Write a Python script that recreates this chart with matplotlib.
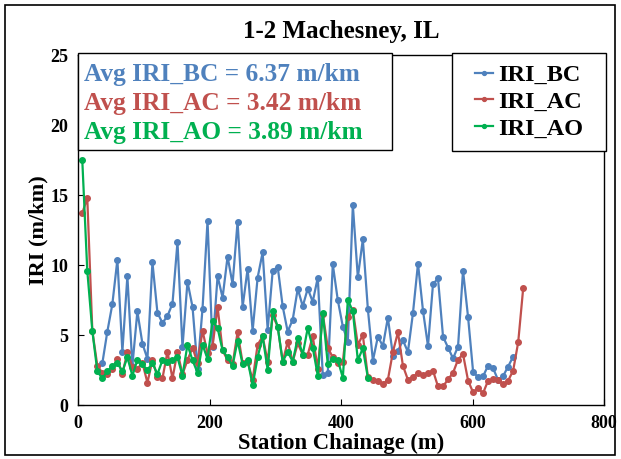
import matplotlib
matplotlib.use("Agg")
import matplotlib.pyplot as plt
from matplotlib.patches import Rectangle

# station chainage (m), one reading every 25 ft
station = [6.5, 14.1, 21.8, 29.4, 37.0, 44.6, 52.2, 59.9, 67.5, 75.1,
           82.7, 90.3, 98.0, 105.6, 113.2, 120.8, 128.4, 136.1, 143.7, 151.3,
           158.9, 166.5, 174.2, 181.8, 189.4, 197.0, 204.6, 212.3, 219.9, 227.5,
           235.1, 242.7, 250.4, 258.0, 265.6, 273.2, 280.8, 288.5, 296.1, 303.7,
           311.3, 318.9, 326.6, 334.2, 341.8, 349.4, 357.0, 364.7, 372.3, 379.9,
           387.5, 395.1, 402.8, 410.4, 418.0, 425.6, 433.2, 440.9, 448.5, 456.1,
           463.7, 471.3, 479.0, 486.6, 494.2, 501.8, 509.4, 517.1, 524.7, 532.3,
           539.9, 547.5, 555.2, 562.8, 570.4, 578.0, 585.6, 593.3, 600.9, 608.5,
           616.1, 623.7, 631.4, 639.0, 646.6, 654.2, 661.8, 669.5, 677.1]

# before construction (stations 5..87)
iri_bc = [2.98, 5.24, 7.19, 10.38, 3.82, 9.19, 2.8, 6.68, 4.38, 3.3,
          10.19, 6.6, 5.86, 6.36, 7.24, 11.64, 4.12, 8.81, 7.0, 2.6,
          6.88, 13.15, 4.17, 9.21, 7.67, 10.6, 8.64, 13.1, 7.02, 9.74,
          5.31, 9.1, 10.9, 5.38, 9.57, 9.88, 7.05, 5.24, 6.1, 8.31,
          7.05, 8.31, 7.38, 9.1, 2.14, 2.26, 10.05, 7.5, 5.6, 4.52,
          14.29, 9.12, 11.83, 6.83, 3.17, 4.88, 4.21, 6.24, 3.52, 3.86,
          4.62, 3.79, 6.55, 10.1, 6.74, 4.21, 8.62, 9.05, 4.88, 4.1,
          3.33, 4.17, 9.6, 6.26, 2.38, 1.97, 2.05, 2.82, 2.62, 1.77,
          2.07, 2.75, 3.45]

# after construction (all stations)
iri_ac = [13.7, 14.8, 5.3, 2.8, 2.3, 2.2, 2.6, 3.3, 2.2, 3.8,
          2.7, 2.6, 3.0, 1.6, 3.2, 2.0, 1.9, 3.8, 1.9, 3.8,
          2.2, 3.2, 4.1, 3.0, 5.3, 3.7, 4.2, 7.0, 3.9, 3.2,
          2.9, 5.2, 3.0, 3.1, 1.8, 4.3, 4.9, 3.1, 6.4, 5.6,
          3.1, 4.5, 3.1, 4.4, 3.6, 3.6, 4.9, 2.6, 6.5, 4.1,
          3.4, 3.0, 3.1, 6.3, 6.8, 4.3, 5.0, 2.0, 1.8, 1.75,
          1.5, 1.8, 3.8, 5.2, 2.8, 1.8, 2.0, 2.3, 2.15, 2.3,
          2.45, 1.33, 1.33, 1.83, 2.3, 3.24, 3.63, 1.74, 0.9, 1.19,
          0.85, 1.74, 1.83, 1.77, 1.5, 1.74, 2.45, 4.48, 8.34]

# after overlay (stations 1..58)
iri_ao = [17.5, 9.6, 5.3, 2.4, 1.9, 2.4, 2.8, 3.0, 2.4, 3.4,
          2.1, 3.2, 2.9, 2.5, 3.0, 2.2, 3.2, 3.1, 3.2, 3.4,
          2.1, 4.3, 3.2, 2.3, 4.3, 3.3, 6.0, 5.5, 3.9, 3.4,
          2.8, 4.6, 2.9, 3.2, 1.4, 3.4, 4.9, 2.5, 6.7, 5.6,
          3.1, 3.8, 3.1, 4.8, 3.6, 5.5, 4.1, 2.1, 6.6, 2.9,
          3.3, 3.2, 1.95, 7.5, 6.7, 3.2, 4.05, 1.95]

averages = ["Avg IRI_BC = 6.37 m/km", "Avg IRI_AC = 3.42 m/km", "Avg IRI_AO = 3.89 m/km"]

blue = "#4F81BD"
red = "#C0504D"
green = "#00B050"
serif = "Liberation Serif"

fig = plt.figure(figsize=(6.21, 4.59), dpi=100)
ax = fig.add_axes([78 / 621, 1 - 405 / 459, 526 / 621, 350 / 459])

ax.plot(station[4:87], iri_bc, color=blue, lw=1.6, marker="o", ms=4, label="IRI_BC")
ax.plot(station, iri_ac, color=red, lw=1.6, marker="o", ms=4, label="IRI_AC")
ax.plot(station[:58], iri_ao, color=green, lw=1.6, marker="o", ms=4, label="IRI_AO")

ax.set_xlim(0, 800)
ax.set_ylim(0, 25)
ax.set_xticks([0, 200, 400, 600, 800])
ax.set_yticks([0, 5, 10, 15, 20, 25])
ax.tick_params(direction="in", length=4, width=0.8, pad=7)
for lab in ax.get_xticklabels() + ax.get_yticklabels():
    lab.set_fontfamily(serif)
    lab.set_fontweight("bold")
    lab.set_fontsize(13)
for s in ax.spines.values():
    s.set_linewidth(1.0)

ax.set_xlabel("Station Chainage (m)", family=serif, weight="bold", fontsize=16.3, labelpad=1)
ax.set_ylabel("IRI (m/km)", family=serif, weight="bold", fontsize=16, labelpad=1)
ax.set_title("1-2 Machesney, IL", family=serif, weight="bold", fontsize=18, pad=12)

# box with the averages
ax.add_patch(Rectangle((0, 0.729), 0.597, 0.277, transform=ax.transAxes,
                       facecolor="white", edgecolor="black", lw=1.0, clip_on=False, zorder=5))
for txt, col, yb in zip(averages, [blue, red, green], [0.926, 0.843, 0.760]):
    ax.text(0.012, yb, txt, transform=ax.transAxes, color=col, family=serif,
            weight="bold", fontsize=18.3, va="baseline", ha="left", zorder=6)

# legend box, entries centred inside it
ax.add_patch(Rectangle((0.711, 0.726), 0.293, 0.280, transform=ax.transAxes,
                       facecolor="white", edgecolor="black", lw=1.0, clip_on=False, zorder=5))
leg = ax.legend(loc="center", bbox_to_anchor=(0.857, 0.866), frameon=False,
                borderaxespad=0, prop={"family": serif, "weight": "bold", "size": 17.5},
                handlelength=0.75, handletextpad=0.2, labelspacing=0.2,
                borderpad=0, markerscale=0.7)
leg.set_zorder(6)

# outer chart border
fig.add_artist(Rectangle((5 / 621, 1 - 455 / 459), 610 / 621, 450 / 459,
                         transform=fig.transFigure, fill=False, edgecolor="black", lw=1.2))

fig.savefig("out.png", dpi=100)
